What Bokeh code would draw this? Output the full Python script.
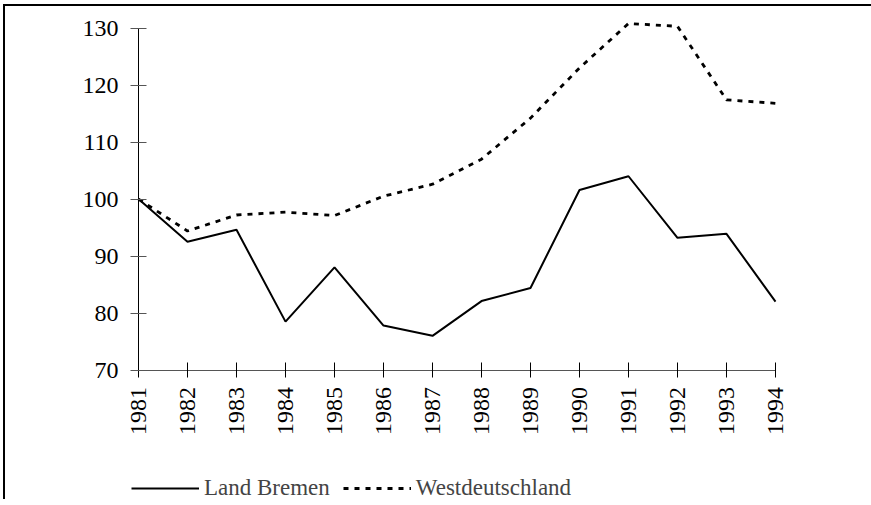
from bokeh.plotting import figure
from bokeh.models import Range1d, Legend, LegendItem, FixedTicker, ColumnDataSource
from bokeh.embed import file_html
from bokeh.resources import INLINE
import math

years = [1981, 1982, 1983, 1984, 1985, 1986, 1987, 1988, 1989, 1990, 1991, 1992, 1993, 1994]
land_bremen = [100, 92.5, 94.6, 78.5, 88.0, 77.8, 76.0, 82.1, 84.4, 101.6, 104.0, 93.2, 93.9, 82.0]
westdeutschland = [100, 94.4, 97.2, 97.7, 97.1, 100.5, 102.6, 107.0, 114.2, 123.0, 130.8, 130.3, 117.4, 116.8]
y_ticks = [70, 80, 90, 100, 110, 120, 130]
series_names = ["Land Bremen", "Westdeutschland"]

FONT = "Liberation Serif"

# view geometry: the frame covers the whole canvas so that axes, labels and legend are not clipped
PX_PER_UNIT = 5.7
PX_PER_YEAR = 49
FRAME_H = 480
FRAME_W = 866
LEFT_PAD = 133          # px from frame left to the first year
Y_TOP = 131.5
Y_BOTTOM = Y_TOP - FRAME_H / PX_PER_UNIT
X_START = years[0] - LEFT_PAD / PX_PER_YEAR
X_END = X_START + FRAME_W / PX_PER_YEAR

src = ColumnDataSource(dict(year=years, lb=land_bremen, wd=westdeutschland))

p = figure(output_backend="svg", toolbar_location=None,
           x_range=Range1d(X_START, X_END), y_range=Range1d(Y_BOTTOM, Y_TOP),
           frame_width=FRAME_W, frame_height=FRAME_H,
           min_border_left=0, min_border_right=0, min_border_top=13, min_border_bottom=0)
p.styles = {"border-top": "2px solid black", "border-left": "2px solid black",
            "margin-top": "4px", "margin-left": "3px"}
p.outline_line_color = None
p.xgrid.grid_line_color = None
p.ygrid.grid_line_color = None
p.background_fill_color = "white"
p.border_fill_color = "white"

r1 = p.line("year", "lb", source=src, line_color="black", line_width=2)
r2 = p.line("year", "wd", source=src, line_color="black", line_width=2.8, line_dash="5 6")

p.xaxis.fixed_location = y_ticks[0]
p.xaxis.bounds = (years[0], years[-1])
p.xaxis.ticker = FixedTicker(ticks=years)
p.xaxis.major_label_orientation = math.pi / 2
p.xaxis.major_tick_in = 8
p.xaxis.major_tick_out = 7
p.xaxis.minor_tick_line_color = None
p.xaxis.axis_line_color = "#555555"
p.xaxis.major_tick_line_color = "black"
p.xaxis.major_label_standoff = 10

p.yaxis.fixed_location = years[0]
p.yaxis.ticker = FixedTicker(ticks=y_ticks)
p.yaxis.bounds = (y_ticks[0], y_ticks[-1])
p.yaxis.major_tick_in = 8
p.yaxis.major_tick_out = 8
p.yaxis.minor_tick_line_color = None
p.yaxis.axis_line_color = "black"
p.yaxis.major_tick_line_color = "#555555"
p.yaxis.major_label_standoff = 12

for ax in (p.xaxis[0], p.yaxis[0]):
    ax.major_label_text_font = FONT
    ax.major_label_text_font_size = "24px"
    ax.major_label_text_color = "black"

legend = Legend(items=[LegendItem(label=series_names[0], renderers=[r1]),
                       LegendItem(label=series_names[1], renderers=[r2])],
                orientation="horizontal", location=(LEFT_PAD - 7, -2),
                border_line_color=None, background_fill_alpha=0,
                padding=0, margin=0, spacing=13, label_standoff=5,
                glyph_width=68, glyph_height=20, label_height=20,
                label_text_font=FONT, label_text_font_size="23px")
p.add_layout(legend, "center")

open("out.html", "w").write(file_html(p, INLINE))
